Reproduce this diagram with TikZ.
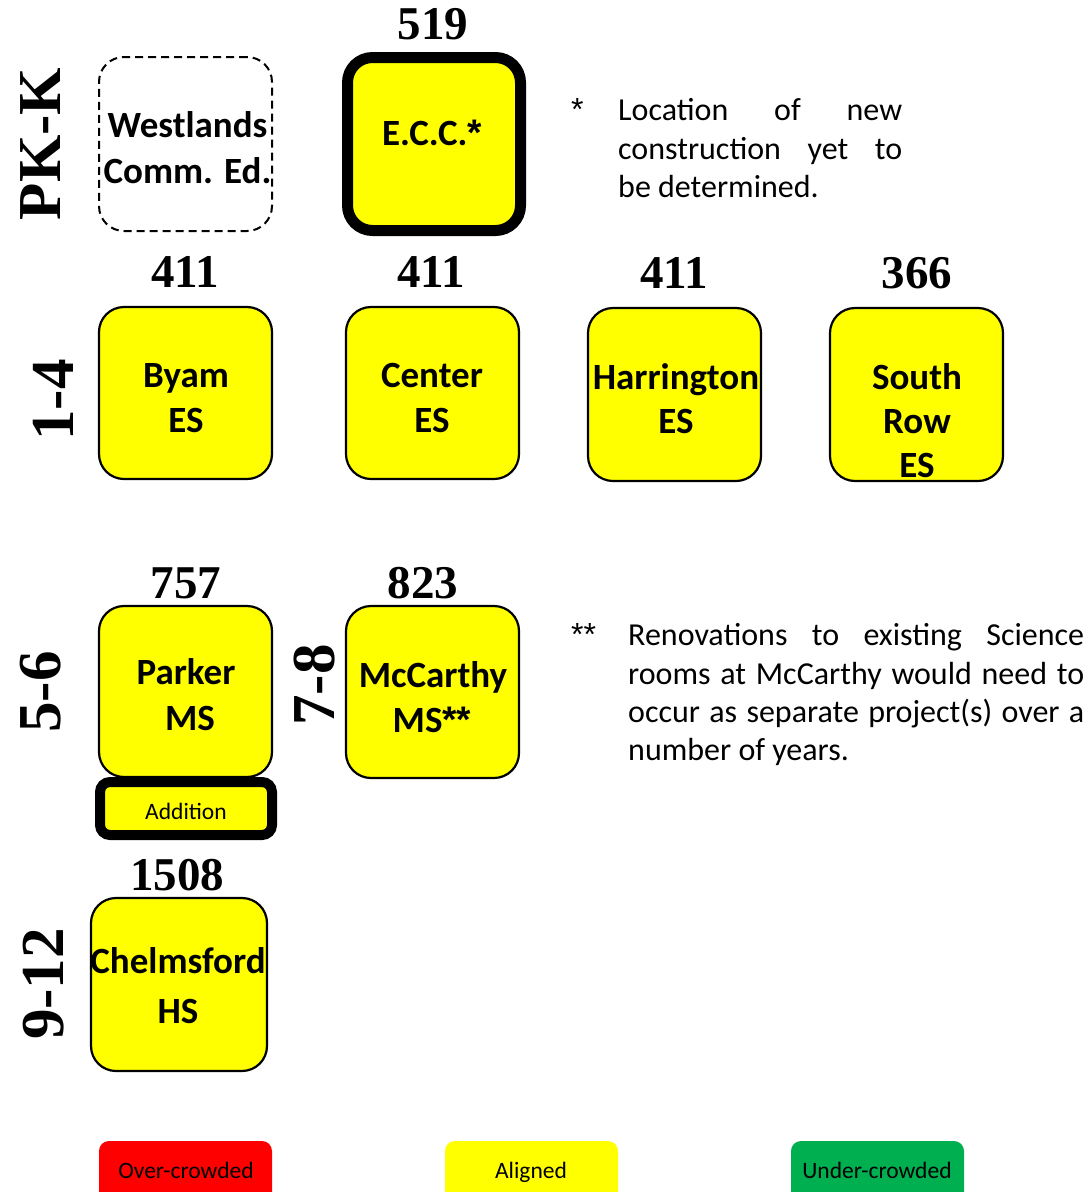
\documentclass[tikz,border=0pt]{standalone}
\usepackage{fontspec}
\setmainfont{Carlito}
\newfontfamily\numfont{Liberation Serif}
\newfontfamily\starfont{Liberation Sans}
\newcommand{\mystar}{{\starfont *}}
\definecolor{sy}{HTML}{FFFF00}
\definecolor{sr}{HTML}{FF0000}
\definecolor{sg}{HTML}{00B050}
\tikzset{
  box/.style={draw=black, line width=2.2pt, fill=sy, rounded corners=25pt, inner sep=0pt},
  dbox/.style={draw=black, line width=2pt, dash pattern=on 8pt off 5pt, rounded corners=25pt, inner sep=0pt},
  thickbox/.style={draw=black, line width=11pt, fill=sy, rounded corners=25pt, inner sep=0pt},
  lbl/.style={font=\fontsize{37}{44}\selectfont\bfseries, inner sep=0pt, anchor=base},
  num/.style={font=\fontsize{47}{50}\selectfont\numfont\bfseries, inner sep=0pt, anchor=base},
  grade/.style={font=\fontsize{61}{64}\selectfont\numfont\bfseries, inner sep=0pt, anchor=base, rotate=90},
  note/.style={font=\fontsize{32}{38}\selectfont, inner sep=0pt, anchor=base west},
  small/.style={font=\fontsize{23.5}{26}\selectfont, inner sep=0pt, anchor=base},
  legbox/.style={draw=none, rounded corners=10pt, inner sep=0pt, minimum width=173pt, minimum height=80pt}
}
\begin{document}
\begin{tikzpicture}[x=1pt,y=-1pt]
\useasboundingbox (0,0) rectangle (1089,1192);
% PK-K row
\node[dbox, minimum width=173pt, minimum height=174pt] (west) at (185.5,144) {};
\node[lbl] (westA) at (187.5,137) {Westlands};
\node[lbl] (westB) at (187.5,183) {Comm. Ed.};
\node[thickbox, minimum width=173pt, minimum height=173pt] (ecc) at (434,144) {};
\node[lbl] (eccA) at (432,145) {E.C.C.\mystar};
\node[num] (neecc) at (433,39) {519};
\node[grade] (gpk) at (60,144) {PK-K};
% 1-4 row
\node[box, minimum width=173pt, minimum height=172pt] (byam) at (185.5,393) {};
\node[box, minimum width=173pt, minimum height=172pt] (center) at (432.5,393) {};
\node[box, minimum width=173pt, minimum height=173pt] (harr) at (674.5,394.5) {};
\node[box, minimum width=173pt, minimum height=173pt] (south) at (916.5,394.5) {};
\node[num] (nbyam) at (185,287) {411};
\node[num] (ncenter) at (431,287) {411};
\node[num] (nharr) at (674,288) {411};
\node[num] (nsouth) at (917,288) {366};
\node[lbl] (byamA) at (186,387) {Byam};
\node[lbl] (byamB) at (186,432) {ES};
\node[lbl] (centerA) at (432,387) {Center};
\node[lbl] (centerB) at (432,432) {ES};
\node[lbl] (harrA) at (676,389) {Harrington};
\node[lbl] (harrB) at (676,433) {ES};
\node[lbl] (southA) at (917,389) {South};
\node[lbl] (southB) at (917,433) {Row};
\node[lbl] (southC) at (917,477) {ES};
\node[grade] (g14) at (73,400) {1-4};
% 5-6 / 7-8 row
\node[box, minimum width=173pt, minimum height=171pt] (parker) at (185.5,691.5) {};
\node[box, minimum width=173pt, minimum height=172pt] (mcc) at (432.5,692) {};
\node[num] (nparker) at (186,598) {757};
\node[num] (nmcc) at (423,598) {823};
\node[lbl] (parkerA) at (186,684) {Parker};
\node[lbl] (parkerB) at (190,730) {MS};
\node[lbl] (mccA) at (433,687) {McCarthy};
\node[lbl] (mccB) at (432,732) {MS\mystar\mystar};
\node[grade] (g56) at (60,692) {5-6};
\node[grade] (g78) at (334,685) {7-8};
\node[draw=black, line width=10pt, fill=sy, rounded corners=10pt, inner sep=0pt, minimum width=172pt, minimum height=53pt] (addition) at (186,808.5) {};
\node[small] (additionT) at (186,819) {Addition};
% 9-12 row
\node[box, minimum width=176pt, minimum height=173pt] (chelm) at (179,984.5) {};
\node[num] (nchelm) at (177,890) {1508};
\node[lbl] (chelmA) at (178,973) {Chelmsford};
\node[lbl] (chelmB) at (178,1023) {HS};
\node[grade] (g912) at (63,984) {9-12};
% notes
\node[note] (star1) at (571,120) {\mystar};
\node[note] (n1a) at (618,120) {\makebox[284pt][s]{Location of new}};
\node[note] (n1b) at (618,159) {\makebox[284pt][s]{construction yet to}};
\node[note] (n1c) at (618,197) {be determined.};
\node[note] (star2) at (571,645) {\mystar\mystar};
\node[note] (n2a) at (628,645) {\makebox[456pt][s]{Renovations to existing Science}};
\node[note] (n2b) at (628,684) {\makebox[456pt][s]{rooms at McCarthy would need to}};
\node[note] (n2c) at (628,722) {\makebox[456pt][s]{occur as separate project(s) over a}};
\node[note] (n2d) at (628,760) {number of years.};
% legend
\node[legbox, fill=sr] (lover) at (185.5,1181) {};
\node[legbox, fill=sy] (lalign) at (531.5,1181) {};
\node[legbox, fill=sg] (lunder) at (877.5,1181) {};
\node[small] (loverT) at (186,1178) {Over-crowded};
\node[small] (lalignT) at (531,1178) {Aligned};
\node[small] (lunderT) at (877,1178) {Under-crowded};
\end{tikzpicture}
\end{document}
